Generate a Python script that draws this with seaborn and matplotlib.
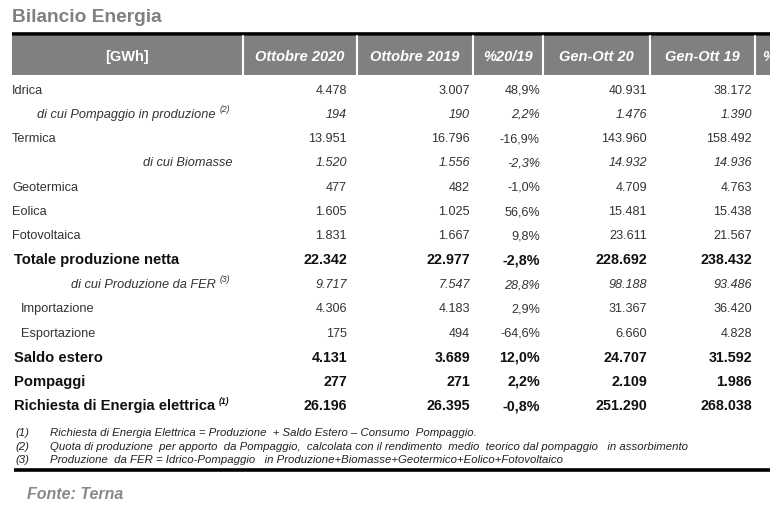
import matplotlib
matplotlib.use("Agg")
import matplotlib.pyplot as plt
import seaborn as sns

# table data (GWh)
labels = ["Idrica", "di cui Pompaggio in produzione", "Termica", "di cui Biomasse",
          "Geotermica", "Eolica", "Fotovoltaica", "Totale produzione netta",
          "di cui Produzione da FER", "Importazione", "Esportazione",
          "Saldo estero", "Pompaggi", "Richiesta di Energia elettrica"]
notes = ["", "(2)", "", "", "", "", "", "", "(3)", "", "", "", "", "(1)"]
ott_2020 = [4478, 194, 13951, 1520, 477, 1605, 1831, 22342, 9717, 4306, 175, 4131, 277, 26196]
ott_2019 = [3007, 190, 16796, 1556, 482, 1025, 1667, 22977, 7547, 4183, 494, 3689, 271, 26395]
pct_20_19 = [48.9, 2.2, -16.9, -2.3, -1.0, 56.6, 9.8, -2.8, 28.8, 2.9, -64.6, 12.0, 2.2, -0.8]
genott_20 = [40931, 1476, 143960, 14932, 4709, 15481, 23611, 228692, 98188, 31367, 6660, 24707, 2109, 251290]
genott_19 = [38172, 1390, 158492, 14936, 4763, 15438, 21567, 238432, 93486, 36420, 4828, 31592, 1986, 268038]
headers = ["[GWh]", "Ottobre 2020", "Ottobre 2019", "%20/19", "Gen-Ott 20", "Gen-Ott 19", "%20/19"]
footnotes = [
    ("(1)", "Richiesta di Energia Elettrica = Produzione  + Saldo Estero \u2013 Consumo  Pompaggio."),
    ("(2)", "Quota di produzione  per apporto  da Pompaggio,  calcolata con il rendimento  medio  teorico dal pompaggio   in assorbimento"),
    ("(3)", "Produzione  da FER = Idrico-Pompaggio   in Produzione+Biomasse+Geotermico+Eolico+Fotovoltaico"),
]

# row styles: n = normal, i = italic sub-row, b = bold total
kinds = ["n", "i", "n", "i", "n", "n", "n", "b", "i", "n", "n", "b", "b", "b"]
indent = [12, 37, 12, 143, 12, 12, 12, 14, 71, 21, 21, 14, 14, 14]


def fmt_int(v):
    return f"{v:,}".replace(",", ".")


def fmt_pct(v):
    return f"{v:.1f}%".replace(".", ",")


sns.set_theme(style="white")
plt.rcParams['font.family'] = ['Liberation Sans', 'DejaVu Sans']

fig = plt.figure(figsize=(7.7, 5.13), dpi=100)
ax = fig.add_axes([0, 0, 1, 1])
ax.set_xlim(0, 770)
ax.set_ylim(513, 0)
ax.axis("off")

grey = "#808080"
txt = "#333333"

ax.text(12, 22.5, "Bilancio Energia", fontsize=13.8, fontweight="bold", color=grey,
        va="baseline")

# header band
ax.plot([12, 770], [34, 34], color="black", lw=2.6, solid_capstyle="butt")
ax.fill_between([12, 880], 36, 75, color=grey, lw=0)
col_edges = [12, 243, 357, 473, 543, 650, 755, 880]
for x in col_edges[1:-1]:
    ax.plot([x, x], [36, 75], color="white", lw=1.5)
ax.fill([651, 654, 651], [37, 37, 40], color="#2e8b2e", lw=0)
for i, h in enumerate(headers[:-1]):
    cx = (col_edges[i] + col_edges[i + 1]) / 2
    style = "normal" if i == 0 else "italic"
    ax.text(cx, 61, h, ha="center", va="baseline", color="white", fontsize=10.5,
            fontweight="bold", fontstyle=style)
# last header column only partly visible, as in the source
ax.text(762, 61, headers[-1][0], ha="left", va="baseline", color="white",
        fontsize=10.5, fontweight="bold", fontstyle="italic")

# body rows
y0, dy = 89, 24.3
right_x = [347, 470, 540, 647, 752]
cols = [ott_2020, ott_2019, pct_20_19, genott_20, genott_19]
fig.canvas.draw()
renderer = fig.canvas.get_renderer()
for r, lab in enumerate(labels):
    y = y0 + r * dy
    k = kinds[r]
    fs = 10.6 if k == "b" else 9.2
    base = y + (5.2 if k == "b" else 4.6)
    weight = "bold" if k == "b" else "normal"
    style = "italic" if k == "i" else "normal"
    color = "#111111" if k == "b" else txt
    t = ax.text(indent[r], base, lab, fontsize=fs, fontweight=weight, fontstyle=style,
                color=color, va="baseline")
    if notes[r]:
        bb = t.get_window_extent(renderer)
        ax.text(bb.x1 + 4, base - 6, notes[r], fontsize=6.2, fontstyle="italic",
                fontweight=weight, color=color, va="baseline")
    for c, vals in enumerate(cols):
        s = fmt_pct(vals[r]) if c == 2 else fmt_int(vals[r])
        ax.text(right_x[c], base, s, fontsize=(10.3 if k == "b" else 9.1), fontweight=weight,
                fontstyle=style, color=color, va="baseline", ha="right")

# footnotes
for i, (n, f) in enumerate(footnotes):
    y = 432 + i * 13.5 + 4
    ax.text(15, y, n, fontsize=8.2, fontstyle="italic", color="#222222", va="baseline")
    ax.text(50, y, f, fontsize=8.2, fontstyle="italic", color="#222222", va="baseline")
ax.plot([14, 770], [470, 470], color="black", lw=2.6, solid_capstyle="butt")

ax.text(27, 499, "Fonte: Terna", fontsize=11.5, fontweight="bold", fontstyle="italic",
        color="#8a8a8a", va="baseline")

fig.savefig("out.png", dpi=100)
